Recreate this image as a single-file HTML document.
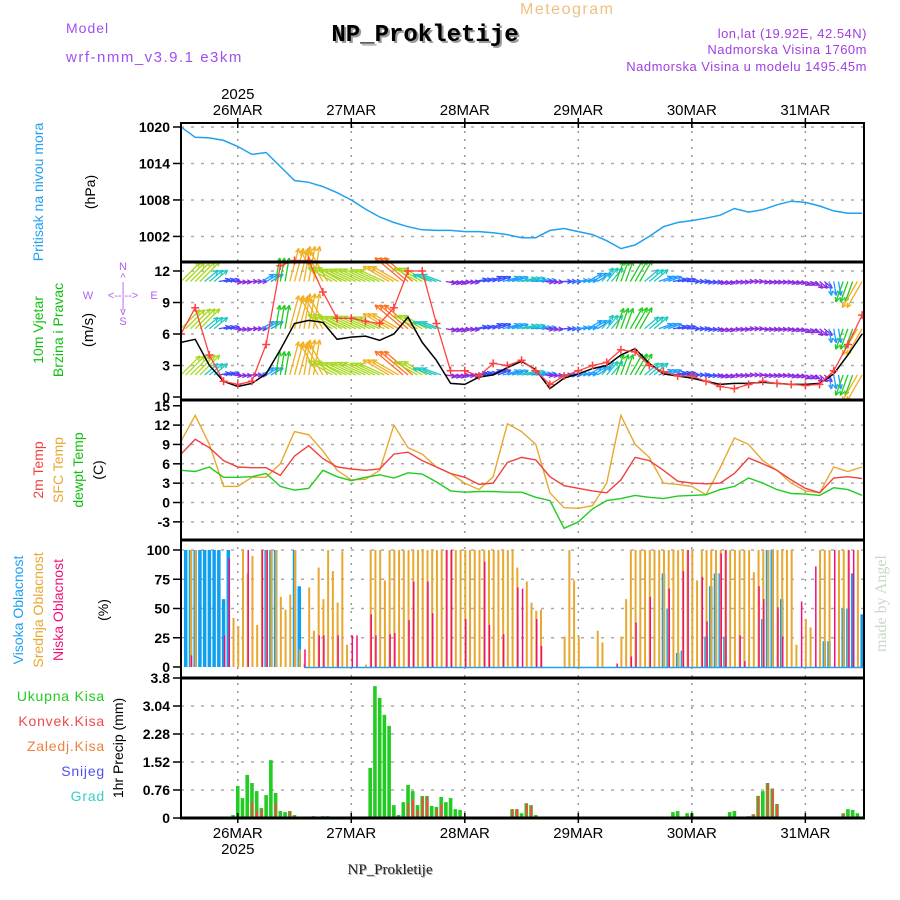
<!DOCTYPE html>
<html><head><meta charset="utf-8"><title>Meteogram NP_Prokletije</title>
<style>
html,body{margin:0;padding:0;background:#fff;}
svg{display:block;font-family:"Liberation Sans",sans-serif;}
.tk{font-size:14px;font-weight:bold;fill:#000;}
</style></head>
<body>
<svg id="chart" width="900" height="900" viewBox="0 0 900 900" xmlns="http://www.w3.org/2000/svg">
<rect x="0" y="0" width="900" height="900" fill="#fff"/>
<text x="520" y="14" font-size="16" fill="#f0c080" letter-spacing="1.5">Meteogram</text>
<text x="427" y="43" font-family="Liberation Mono, monospace" font-size="24" font-weight="bold" fill="#999" text-anchor="middle">NP_Prokletije</text>
<text x="425" y="41" font-family="Liberation Mono, monospace" font-size="24" font-weight="bold" fill="#000" text-anchor="middle">NP_Prokletije</text>
<text x="66" y="33" font-size="14" fill="#a050f0" letter-spacing="1">Model</text>
<text x="66" y="62" font-size="15" fill="#a050f0" letter-spacing="1.5">wrf-nmm_v3.9.1 e3km</text>
<text x="867" y="38" font-size="13" fill="#a040e0" text-anchor="end" letter-spacing="0.5">lon,lat (19.92E, 42.54N)</text>
<text x="867" y="54" font-size="13" fill="#a040e0" text-anchor="end" letter-spacing="0.5">Nadmorska Visina 1760m</text>
<text x="867" y="71" font-size="13" fill="#a040e0" text-anchor="end" letter-spacing="0.5">Nadmorska Visina u modelu 1495.45m</text>
<text transform="translate(886,652) rotate(-90)" font-family="Liberation Serif, serif" font-size="16" fill="#c8d8c8">made by Angel</text>
<text x="391" y="875" font-family="Liberation Serif, serif" font-size="15" fill="#aaa" text-anchor="middle">NP_Prokletije</text>
<text x="390" y="874" font-family="Liberation Serif, serif" font-size="15" fill="#222" text-anchor="middle">NP_Prokletije</text>

<text transform="translate(43,192) rotate(-90)" font-size="14" fill="#20a0f0" text-anchor="middle">Pritisak na nivou mora</text>
<text transform="translate(95,192) rotate(-90)" font-size="14" fill="#000" text-anchor="middle">(hPa)</text>
<text transform="translate(43,330) rotate(-90)" font-size="14" fill="#10c010" text-anchor="middle">10m Vjetar</text>
<text transform="translate(63,330) rotate(-90)" font-size="14" fill="#10c010" text-anchor="middle">Brzina i Pravac</text>
<text transform="translate(93,330) rotate(-90)" font-size="15" fill="#000" text-anchor="middle">(m/s)</text>
<g fill="#b060f0" font-size="11" text-anchor="middle">
<text x="123" y="270">N</text><text x="123" y="281">^</text><text x="123" y="290">|</text>
<text x="88" y="299">W</text><text x="123" y="299">&lt;--|--&gt;</text><text x="154" y="299">E</text>
<text x="123" y="308">|</text><text x="123" y="315">v</text><text x="123" y="325">S</text>
</g>
<text transform="translate(43,470) rotate(-90)" font-size="14" fill="#f04040" text-anchor="middle">2m Temp</text>
<text transform="translate(63,470) rotate(-90)" font-size="14" fill="#e8a830" text-anchor="middle">SFC Temp</text>
<text transform="translate(83,470) rotate(-90)" font-size="14" fill="#10c010" text-anchor="middle">dewpt Temp</text>
<text transform="translate(103,470) rotate(-90)" font-size="14" fill="#000" text-anchor="middle">(C)</text>
<text transform="translate(23,610) rotate(-90)" font-size="14" fill="#20a0f0" text-anchor="middle">Visoka Oblacnost</text>
<text transform="translate(43,610) rotate(-90)" font-size="14" fill="#e8a830" text-anchor="middle">Srednja Oblacnost</text>
<text transform="translate(63,610) rotate(-90)" font-size="14" fill="#f0107a" text-anchor="middle">Niska Oblacnost</text>
<text transform="translate(108,610) rotate(-90)" font-size="14" fill="#000" text-anchor="middle">(%)</text>
<text x="105" y="701" font-size="14" fill="#20cc20" text-anchor="end" letter-spacing="0.8">Ukupna  Kisa</text>
<text x="105" y="726" font-size="14" fill="#f04848" text-anchor="end" letter-spacing="0.8">Konvek.Kisa</text>
<text x="105" y="751" font-size="14" fill="#f08040" text-anchor="end" letter-spacing="0.8">Zaledj.Kisa</text>
<text x="105" y="776" font-size="14" fill="#5050f0" text-anchor="end" letter-spacing="0.8">Snijeg</text>
<text x="105" y="801" font-size="14" fill="#30d0d0" text-anchor="end" letter-spacing="0.8">Grad</text>
<text transform="translate(123,748) rotate(-90)" font-size="14" fill="#000" text-anchor="middle">1hr Precip (mm)</text>

<defs><clipPath id="plotclip"><rect x="181" y="123" width="683" height="695"/></clipPath></defs>
<g id="grid"></g>
<g id="marks" clip-path="url(#plotclip)"></g>
<g id="frame"></g>
<g id="axes"></g>
</svg>
<script>
// ===== data =====
const dayLabels = ["26MAR","27MAR","28MAR","29MAR","30MAR","31MAR"];
const dayStartHours = [12,36,60,84,108,132];
const pressure = [1020,1018.3,1018.2,1017.8,1016.8,1015.5,1015.8,1013.5,1011.2,1010.9,1010.2,1009.2,1008,1006.5,1005.2,1004.3,1003.6,1003.1,1003,1003,1002.8,1002.8,1002.6,1002.3,1001.8,1001.8,1003,1003.3,1002.8,1002.3,1001.3,1000,1000.6,1002,1003.6,1004.3,1004.6,1005,1005.5,1006.6,1006.0,1006.4,1007.2,1007.8,1007.6,1007,1006.2,1005.8,1005.8];
const windSpeed = [5.2,5.5,3.0,1.5,1.0,1.3,2.2,4.5,7.0,7.3,7.1,5.5,5.7,5.8,5.4,6.0,7.6,5.2,3.5,1.3,1.2,1.9,2.1,2.8,3.4,2.6,0.8,1.8,2.2,2.7,3.0,4.0,4.6,3.2,2.2,2.0,1.8,1.5,1.2,1.3,1.3,1.4,1.3,1.2,1.2,1.3,2.2,4.0,6.0];
const windGust = [6,8.5,4,1.5,1.2,1.5,5,12.5,13,13,10,7.5,7.5,7.2,7.0,8.5,12,12,7,2.5,2.5,2,3.2,3.0,3.5,2.5,1.2,2.0,2.5,3.0,3.3,4.5,4.3,3.0,2.4,2.0,2.0,1.5,1.0,0.8,1.2,1.5,1.3,1.2,1.1,1.2,2.5,5.0,7.8];
const windDirTo = [45,45,50,80,95,90,60,10,15,10,330,300,295,295,295,300,310,300,290,100,95,80,70,75,80,85,95,90,85,60,40,20,30,50,70,80,90,95,100,95,90,95,95,100,110,130,170,200,210];
const temp2m = [7.5,9.8,8.5,6.5,5.5,5.4,5.4,4.2,7.2,8.8,6.8,5.5,5.2,5.0,5.2,7.5,7.8,6.5,5.5,4.5,3.9,2.8,3.0,6.2,7.0,6.6,4.0,2.6,2.2,1.8,1.5,3.5,7.0,6.5,5.0,3.3,3.0,2.9,3.0,4.5,6.9,6.0,5.0,3.5,2.2,1.5,3.8,4.0,3.7];
const tempSfc = [9.5,13.5,9,2.5,2.5,3.9,3.9,6,11,10.5,8,5,3.5,3.6,5,12,8.5,7.5,5.5,4.5,3.0,2.0,4,12.2,11,9,1.5,-0.8,-0.9,-0.5,3,13.5,9,7,3,2.8,2.5,1.2,5.4,10,9,6.5,5,3,1.8,1.5,5.5,4.8,5.5];
const dewpoint = [5.0,4.8,5.5,3.9,3.9,4.0,4.5,2.5,1.9,2.2,5.0,4.0,3.4,3.9,4.3,3.8,4.6,4.4,3.2,1.8,1.6,1.7,1.7,1.6,1.6,0.8,0.3,-4.0,-3.0,-1.0,0.3,0.6,1.1,0.8,0.6,1.0,1.1,1.2,2.0,2.5,3.8,3.0,2.0,1.4,1.3,1.1,2.3,2.0,1.1];
const hiHours = [1,2,3,4,5,6,7,8,9,10,18,19,20,24,25,102,103,105,106,111,112,113,114,115,123,124,125,127,136,137,140,141,142,144];
const hiVals  = [100,100,100,100,100,100,100,100,58,100,100,100,100,100,69,80,50,12,14,26,69,80,80,26,41,100,100,58,22,22,50,50,80,45];
const midHours = [2,3,11,12,13,14,15,16,17,18,19,20,21,22,23,24,25,26,27,28,29,30,31,32,33,34,35,39,40,41,42,43,44,45,46,47,48,49,50,51,52,53,54,55,56,57,58,59,60,61,62,63,64,65,66,67,68,69,70,71,73,74,75,76,81,82,83,84,88,89,93,94,95,96,97,98,99,100,101,102,103,104,105,106,107,108,109,110,111,112,113,114,115,116,117,118,119,120,121,122,123,124,125,126,127,128,129,130,132,133,135,136,137,139,140,141,143];
const midVals  = [100,100,42,35,100,80,95,36,100,100,100,100,60,49,62,100,15,3,68,31,85,58,100,82,55,99,19,2,100,100,100,74,100,100,100,100,100,100,100,100,100,100,100,100,100,100,100,100,100,100,100,100,100,100,100,100,100,100,100,85,73,55,48,49,26,100,74,26,31,21,26,58,100,100,100,100,100,100,100,100,100,100,100,100,100,100,74,100,100,100,100,100,100,100,100,100,100,100,81,100,100,100,100,100,100,100,100,19,41,34,100,100,100,100,100,100,100];
const lowHours = [2,9,10,14,17,18,26,29,30,33,36,37,40,41,44,45,48,49,52,53,56,57,60,64,65,68,71,72,75,76,92,95,96,99,103,106,107,110,111,114,115,118,119,122,123,126,127,131,134,138,141,142];
const lowVals  = [10,27,93,100,100,100,15,27,27,27,27,27,45,27,28,29,40,73,73,46,100,100,41,90,36,28,68,67,41,18,3,9,38,60,67,82,100,77,39,97,100,27,5,69,58,51,26,56,86,100,100,100];
const rainHours = [11,12,13,14,15,16,17,18,19,20,21,22,23,24,27,28,29,30,31,38,39,40,41,42,43,44,45,46,47,48,49,50,51,52,53,54,55,56,57,58,59,70,71,72,73,74,75,104,105,106,107,108,109,116,117,120,121,122,123,124,125,126,127,140,141,142,143];
const rainVals  = [0.08,0.87,0.54,1.17,0.95,0.73,0.27,0.62,1.57,0.68,0.19,0.16,0.19,0.08,0.03,0.05,0.03,0.05,0.05,0.03,0.03,1.36,3.58,3.26,2.8,2.5,0.35,0.08,0.43,0.9,0.73,0.35,0.6,0.6,0.33,0.3,0.57,0.43,0.54,0.24,0.22,0.24,0.24,0.13,0.4,0.35,0.08,0.16,0.19,0.03,0.13,0.13,0.03,0.16,0.19,0.05,0.1,0.6,0.73,0.95,0.8,0.38,0.03,0.13,0.24,0.22,0.13];
const convHours = [15,16,17,20,23,24,48,49,50,51,52,54,55,70,71,73,74,121,122,124,125,126,140];
const convVals  = [0.43,0.19,0.22,0.4,0.19,0.03,0.4,0.5,0.22,0.57,0.57,0.24,0.38,0.24,0.24,0.4,0.33,0.1,0.6,0.95,0.8,0.38,0.1];
const pTicks = [1020,1014,1008,1002];
const wTicks = [12,9,6,3,0];
const tTicks = [15,12,9,6,3,0,-3];
const cTicks = [100,75,50,25,0];
const rTicks = [3.8,3.04,2.28,1.52,0.76,0];
const arrowRows = [11,6.5,2.1];

// ===== scales =====
const X0=181, X1=864, PXH=4.73;
const xh = h => X0 + h*PXH;
const yP = p => 127 + (1020-p)*6.08;
const yW = v => 397 - v*10.5;
const yT = t => 502.5 - t*6.45;
const yC = c => 667 - c*1.17;
const yR = r => 818 - r*36.84;
const NS="http://www.w3.org/2000/svg";
function mk(tag, attrs, parent){const e=document.createElementNS(NS,tag);for(const k in attrs)e.setAttribute(k,attrs[k]);parent.appendChild(e);return e;}
const grid=document.getElementById('grid'), marks=document.getElementById('marks'), frame=document.getElementById('frame'), axes=document.getElementById('axes');

dayStartHours.forEach(h=>{
  const l=mk('line',{x1:xh(h),x2:xh(h),y1:123,y2:818,stroke:'#999','stroke-width':1.5,'stroke-dasharray':'2,6'},grid);
  
  
});
function hgrid(vals, f){vals.forEach(v=>{const l=mk('line',{x1:X0,x2:X1,y1:f(v),y2:f(v),stroke:'#aaa','stroke-width':1.5,'stroke-dasharray':'3,7'},grid);
  
  });}
hgrid(pTicks,yP);hgrid(wTicks.slice(0,4),yW);hgrid(tTicks.slice(1),yT);hgrid(cTicks.slice(0,4),yC);hgrid(rTicks.slice(1,5),yR);

function line(arr, f, color, w, name){
  const pts=arr.map((v,i)=>xh(i*3).toFixed(1)+','+f(v).toFixed(1)).join(' ');
  const pl=mk('polyline',{points:pts,fill:'none',stroke:color,'stroke-width':w},marks);
  
  
  return pl;
}
line(pressure,yP,'#20a0f0',1.5,'pressure-line');

function spdColor(s){
  if(s<1.5)return '#8a2be2'; if(s<2.2)return '#3a4cff'; if(s<3)return '#1e9fff';
  if(s<3.8)return '#20c8c0'; if(s<4.8)return '#22cc22'; if(s<6)return '#a8d820';
  if(s<7.5)return '#f0b020'; if(s<9)return '#ff7020'; return '#ff2070';
}
// arrows drawn every hour; each uses the 3-hourly sample it belongs to
arrowRows.forEach(rv=>{
  for(let h=0; h<=144; h++){
    const i=Math.min(Math.round(h/3),windSpeed.length-1);
    const s=windSpeed[i];
    const x=xh(h), y=yW(rv);
    const th=windDirTo[i]*Math.PI/180;
    const L=Math.min(5+s*4.2,42);
    const ex=x+L*Math.sin(th), ey=y-L*Math.cos(th);
    const g=mk('g',{stroke:spdColor(s),'stroke-width':1.3,fill:'none'},marks);
    
    
    mk('line',{x1:x,y1:y,x2:ex,y2:ey},g);
    [25,-25].forEach(a=>{const t2=th+Math.PI+a*Math.PI/180;
      mk('line',{x1:ex,y1:ey,x2:ex+5*Math.sin(t2),y2:ey-5*Math.cos(t2)},g);});
  }
});
line(windSpeed,yW,'#000',1.5,'wind-speed-line');
line(windGust,yW,'#ff4040',1.3,'wind-gust-line');
windGust.forEach((v,i)=>{
  const x=xh(i*3),y=yW(v);
  const p=mk('path',{d:`M${x-4},${y}H${x+4}M${x},${y-4}V${y+4}`,stroke:'#ff4040','stroke-width':1.5},marks);
  
  
});

line(tempSfc,yT,'#e8a830',1.4,'sfc-temp-line');
line(temp2m,yT,'#f04040',1.4,'temp-2m-line');
line(dewpoint,yT,'#20cc20',1.4,'dewpoint-line');

const cb=mk('line',{x1:xh(26),x2:X1,y1:yC(0)+0.5,y2:yC(0)+0.5,stroke:'#20a0f0','stroke-width':1.5},marks);


function bars(hours, vals, f, color, w, off, name){
  hours.forEach((h,i)=>{
    const x=xh(h)+off, y=f(vals[i]);
    const r=mk('rect',{x:x-w/2,y:y,width:w,height:Math.max(f(0)-y,0.5),fill:color},marks);
    
    
  });
}
bars(hiHours,hiVals,yC,'#10a0f0',3.5,0,'high-cloud-bar');
bars(midHours,midVals,yC,'#e8a830',2,0.5,'mid-cloud-bar');
bars(lowHours,lowVals,yC,'#f0107a',1.5,1,'low-cloud-bar');
bars(rainHours,rainVals,yR,'#22cc22',3.6,0,'total-rain-bar');
bars(convHours,convVals,yR,'#ff4444',2,0.3,'convective-rain-bar');

[[123,2],[262,3],[400,3],[540,3],[678,3],[818,3]].forEach(([y,w])=>{
  const l=mk('line',{x1:X0-1,x2:X1+1,y1:y,y2:y,stroke:'#000','stroke-width':w},frame);
  
  
});
[X0,X1].forEach(x=>{const l=mk('line',{x1:x,x2:x,y1:122,y2:819,stroke:'#000','stroke-width':2},frame);
  
  });

function yticks(vals,f,fmt){vals.forEach(v=>{
  const y=f(v);
  const t=mk('text',{x:170,y:y+5,'text-anchor':'end',class:'tk'},axes);t.textContent=fmt?fmt(v):String(v);
  
  
  const l=mk('line',{x1:173,x2:X0,y1:y,y2:y,stroke:'#000','stroke-width':1.5},axes);
  
  
});}
yticks(pTicks,yP);yticks(wTicks,yW);yticks(tTicks,yT);yticks(cTicks,yC);
yticks(rTicks,yR,v=>v===0?'0':(v===3.8?'3.8':v.toFixed(2)));

dayStartHours.forEach((h,i)=>{
  const x=xh(h);
  const t1=mk('text',{x:x,y:115,'text-anchor':'middle','font-size':15,fill:'#000'},axes);t1.textContent=dayLabels[i];
  
  
  const t2=mk('text',{x:x,y:838,'text-anchor':'middle','font-size':15,fill:'#000'},axes);t2.textContent=dayLabels[i];
  
  
  [123,818].forEach(yy=>{const tk=mk('line',{x1:x,x2:x,y1:yy-5,y2:yy+5,stroke:'#000','stroke-width':1.5},axes);
    
    });
});
const yr1=mk('text',{x:xh(12),y:99,'text-anchor':'middle','font-size':15,fill:'#000'},axes);yr1.textContent='2025';


const yr2=mk('text',{x:xh(12),y:854,'text-anchor':'middle','font-size':15,fill:'#000'},axes);yr2.textContent='2025';


</script>
</body></html>
